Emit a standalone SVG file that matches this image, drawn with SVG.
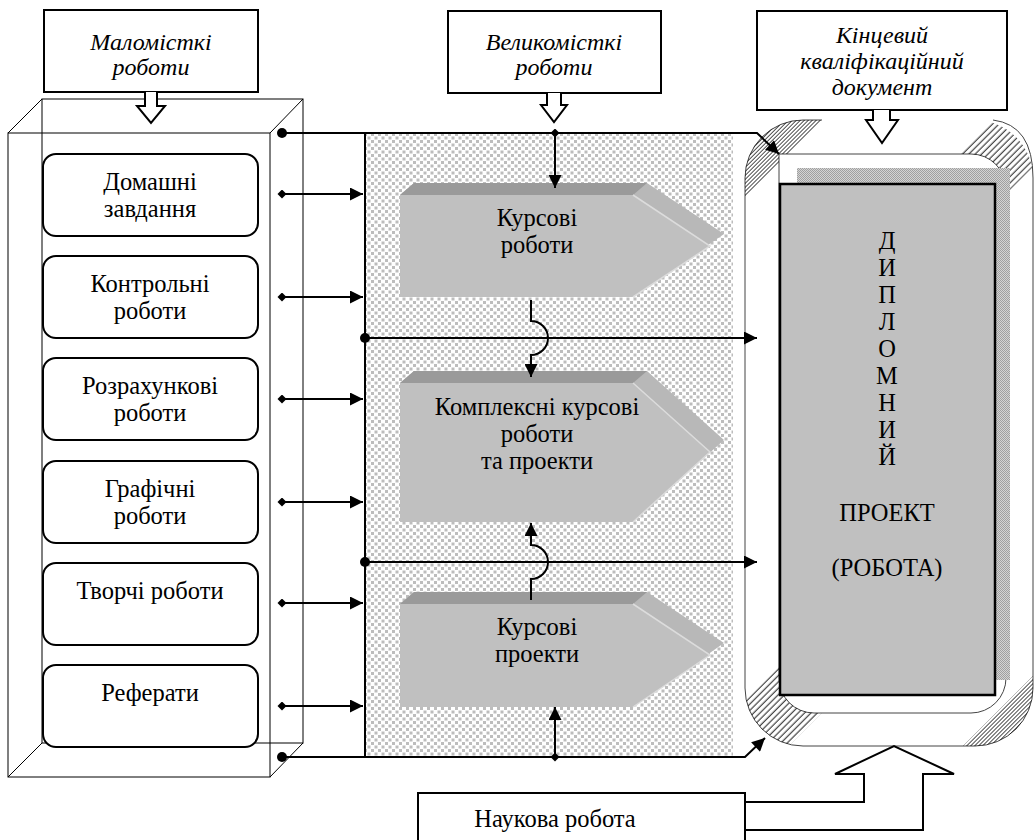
<svg xmlns="http://www.w3.org/2000/svg" width="1035" height="840" viewBox="0 0 1035 840" font-family="'Liberation Serif', 'Times New Roman', 'DejaVu Serif', serif">
<defs>
<style>
text{font-family:'Liberation Serif','Times New Roman','DejaVu Serif',serif}
.t{font-size:24.5px;fill:#000;text-anchor:middle}
.i{font-style:italic;font-size:24px}
.box{fill:#fff;stroke:#000;stroke-width:2}
.wire{fill:none;stroke:#000;stroke-width:1}
.ln{fill:none;stroke:#000;stroke-width:2}
.blk{fill:#fff;stroke:#000;stroke-width:2;stroke-linejoin:miter}
.front{fill:#c0c0c0}
.topb{fill:#9a9a9a}
.side{fill:#b8b8b8}
.hl{fill:none;stroke:#dcdcdc;stroke-width:1.5}
.frm{fill:none;stroke:#444;stroke-width:1}
</style>
<pattern id="stip" width="7" height="7" patternUnits="userSpaceOnUse">
<rect width="7" height="7" fill="#fff"/>
<rect x="0" y="0" width="3" height="3" fill="#bdbdbd"/>
<rect x="3.5" y="3.5" width="3" height="3" fill="#bdbdbd"/>
</pattern>
<pattern id="shd" width="2" height="2" patternUnits="userSpaceOnUse">
<rect width="2" height="2" fill="#d4d4d4"/>
<rect width="1" height="1" fill="#a0a0a0"/>
<rect x="1" y="1" width="1" height="1" fill="#a0a0a0"/>
</pattern>
<pattern id="h1" width="4.5" height="4.5" patternUnits="userSpaceOnUse" patternTransform="rotate(45)">
<line x1="2" y1="0" x2="2" y2="4.5" stroke="#000" stroke-width="0.9"/>
</pattern>
<pattern id="h2" width="2.8" height="2.8" patternUnits="userSpaceOnUse" patternTransform="rotate(45)">
<line x1="1.4" y1="0" x2="1.4" y2="2.8" stroke="#000" stroke-width="0.7"/>
</pattern>
<clipPath id="ring">
<path clip-rule="evenodd" d="M803,120 H975 A58,58 0 0 1 1033,178 V688 A58,58 0 0 1 975,746 H803 A58,58 0 0 1 745,688 V178 A58,58 0 0 1 803,120 Z M779,154 H971 A35,35 0 0 1 1006,189 V678 A35,35 0 0 1 971,713 H814 A35,35 0 0 1 779,678 Z"/>
</clipPath>
<marker id="ar" viewBox="0 0 10 10" refX="10" refY="5" markerWidth="15" markerHeight="13" markerUnits="userSpaceOnUse" orient="auto"><path d="M0,0 L10,5 L0,10 Z" fill="#000"/></marker>
<marker id="dm" viewBox="0 0 10 10" refX="5" refY="5" markerWidth="10" markerHeight="9" markerUnits="userSpaceOnUse"><path d="M5,0 L10,5 L5,10 L0,5 Z" fill="#000"/></marker>
<marker id="dt" viewBox="0 0 10 10" refX="5" refY="5" markerWidth="10" markerHeight="10" markerUnits="userSpaceOnUse"><circle cx="5" cy="5" r="5" fill="#000"/></marker>
</defs>

<rect width="1035" height="840" fill="#fff"/>

<g id="panel">
<rect x="365" y="133" width="368" height="624" fill="url(#stip)"/>
<line x1="365" y1="133" x2="365" y2="757" stroke="#000" stroke-width="2"/>
</g>

<g id="prism">
<rect class="wire" x="42" y="99" width="261" height="644"/>
<rect class="wire" x="8" y="133" width="262" height="644"/>
<line class="wire" x1="8" y1="133" x2="42" y2="99"/>
<line class="wire" x1="270" y1="133" x2="303" y2="99"/>
<line class="wire" x1="8" y1="777" x2="42" y2="743"/>
<line class="wire" x1="270" y1="777" x2="303" y2="743"/>
</g>

<g id="n-domashni"><rect class="box" x="43" y="154" width="215" height="82" rx="13"/><text class="t" x="150" y="190">Домашні</text><text class="t" x="150" y="217">завдання</text></g>
<g id="n-kontrolni"><rect class="box" x="43" y="256" width="215" height="82" rx="13"/><text class="t" x="150" y="292">Контрольні</text><text class="t" x="150" y="319">роботи</text></g>
<g id="n-rozrakh"><rect class="box" x="43" y="358" width="215" height="82" rx="13"/><text class="t" x="150" y="394">Розрахункові</text><text class="t" x="150" y="421">роботи</text></g>
<g id="n-grafichni"><rect class="box" x="43" y="461" width="215" height="82" rx="13"/><text class="t" x="150" y="497">Графічні</text><text class="t" x="150" y="524">роботи</text></g>
<g id="n-tvorchi"><rect class="box" x="43" y="563" width="215" height="82" rx="13"/><text class="t" x="150" y="599">Творчі роботи</text></g>
<g id="n-referaty"><rect class="box" x="43" y="665" width="215" height="82" rx="13"/><text class="t" x="150" y="701">Реферати</text></g>

<g id="n-kursovi-roboty">
<path class="side" d="M400,195 L414,183 L647,183 L724,234 L633,297 L400,297 Z"/>
<path class="topb" d="M400,195 L414,183 L647,183 L633,195 Z"/>
<path class="front" d="M400,195 L633,195 L710,246 L633,297 L400,297 Z"/>
<path class="hl" d="M633,195 L710,246 L633,297"/>
<text class="t" x="537" y="226">Курсові</text><text class="t" x="537" y="253">роботи</text>
</g>
<g id="n-kompleksni">
<path class="side" d="M400,383 L414,371 L647,371 L724,440 L633,522 L400,522 Z"/>
<path class="topb" d="M400,383 L414,371 L647,371 L633,383 Z"/>
<path class="front" d="M400,383 L633,383 L710,452 L633,522 L400,522 Z"/>
<path class="hl" d="M633,383 L710,452 L633,522"/>
<text class="t" x="537" y="415">Комплексні курсові</text><text class="t" x="537" y="442">роботи</text><text class="t" x="537" y="469">та проекти</text>
</g>
<g id="n-kursovi-proekty">
<path class="side" d="M400,604 L414,592 L647,592 L724,643 L633,707 L400,707 Z"/>
<path class="topb" d="M400,604 L414,592 L647,592 L633,604 Z"/>
<path class="front" d="M400,604 L633,604 L710,655 L633,707 L400,707 Z"/>
<path class="hl" d="M633,604 L710,655 L633,707"/>
<text class="t" x="537" y="635">Курсові</text><text class="t" x="537" y="662">проекти</text>
</g>

<g id="n-dyplom">
<path d="M803,120 H975 A58,58 0 0 1 1033,178 V688 A58,58 0 0 1 975,746 H803 A58,58 0 0 1 745,688 V178 A58,58 0 0 1 803,120 Z" fill="#fff"/>
<path class="frm" d="M993,120 Q1033,125 1033,178 V688 A58,58 0 0 1 975,746 H803 A58,58 0 0 1 745,688 V178 A58,58 0 0 1 803,120 H822"/>
<path d="M779,154 H971 A35,35 0 0 1 1006,189 V678 A35,35 0 0 1 971,713 H814 A35,35 0 0 1 779,678 Z" fill="#fff" stroke="#444" stroke-width="1"/>
<g clip-path="url(#ring)">
<polygon points="740,115 827,115 740,202" fill="url(#h2)"/>
<polygon points="1013,100 1100,100 1000,200 913,200" fill="url(#h1)"/>
<polygon points="690,756 800,646 889,646 779,756" fill="url(#h1)"/>
<polygon points="1040,669 1040,760 949,760" fill="url(#h2)"/>
</g>
<rect x="797" y="168" width="213" height="512" fill="url(#shd)"/>
<rect x="780" y="184" width="215" height="511" fill="#c0c0c0" stroke="#000" stroke-width="2.5"/>
<text class="t" x="887" y="249">Д</text>
<text class="t" x="887" y="276">И</text>
<text class="t" x="887" y="303">П</text>
<text class="t" x="887" y="330">Л</text>
<text class="t" x="887" y="357">О</text>
<text class="t" x="887" y="384">М</text>
<text class="t" x="887" y="411">Н</text>
<text class="t" x="887" y="438">И</text>
<text class="t" x="887" y="465">Й</text>
<text class="t" x="887" y="521">ПРОЕКТ</text>
<text class="t" x="887" y="576">(РОБОТА)</text>
</g>

<g id="c-malo">
<rect class="box" x="44" y="10" width="214" height="82"/>
<path class="blk" d="M145,92 V106 H137 L151,123 L165,106 H157 V92"/>
<text class="t i" x="151" y="50">Маломісткі</text><text class="t i" x="151" y="75">роботи</text>
</g>
<g id="c-velyko">
<rect class="box" x="448" y="11" width="213" height="82"/>
<path class="blk" d="M547,93 V105 H541 L554,122 L567,105 H561 V93"/>
<text class="t i" x="554" y="50">Великомісткі</text><text class="t i" x="554" y="75">роботи</text>
</g>
<g id="c-kintsevyi">
<rect class="box" x="757" y="11" width="250" height="99"/>
<path class="blk" d="M873,110 V120 H866 L882,143 L898,120 H890 V110"/>
<text class="t i" x="882" y="43">Кінцевий</text><text class="t i" x="882" y="69">кваліфікаційний</text><text class="t i" x="882" y="95">документ</text>
</g>

<g id="n-naukova">
<path class="blk" d="M745,802 H864 V774 H835 L894,746 L954,774 H923 V830 H745"/>
<rect class="box" x="418" y="793" width="327" height="60"/>
<text class="t" x="555" y="827">Наукова робота</text>
</g>

<g id="connectors" class="ln">
<line x1="282" y1="194" x2="363" y2="194" marker-start="url(#dm)" marker-end="url(#ar)"/>
<line x1="282" y1="297" x2="363" y2="297" marker-start="url(#dm)" marker-end="url(#ar)"/>
<line x1="282" y1="399" x2="363" y2="399" marker-start="url(#dm)" marker-end="url(#ar)"/>
<line x1="282" y1="502" x2="363" y2="502" marker-start="url(#dm)" marker-end="url(#ar)"/>
<line x1="282" y1="603" x2="363" y2="603" marker-start="url(#dm)" marker-end="url(#ar)"/>
<line x1="282" y1="706" x2="363" y2="706" marker-start="url(#dm)" marker-end="url(#ar)"/>
<polyline points="282,133 757,133 779,154" marker-start="url(#dt)" marker-end="url(#ar)"/>
<polyline points="282,757 745,757 765,738" marker-start="url(#dt)" marker-end="url(#ar)"/>
<line x1="365" y1="338" x2="757" y2="338" marker-start="url(#dt)" marker-end="url(#ar)"/>
<line x1="365" y1="562" x2="757" y2="562" marker-start="url(#dt)" marker-end="url(#ar)"/>
<line x1="555" y1="133" x2="555" y2="188" marker-start="url(#dm)" marker-end="url(#ar)"/>
<line x1="555" y1="757" x2="555" y2="707" marker-start="url(#dm)" marker-end="url(#ar)"/>
<path d="M531,300 V321 A17,17 0 0 1 531,355 V377" marker-end="url(#ar)"/>
<path d="M531,600 V579 A17,17 0 0 0 531,545 V523" marker-end="url(#ar)"/>
</g>
</svg>
